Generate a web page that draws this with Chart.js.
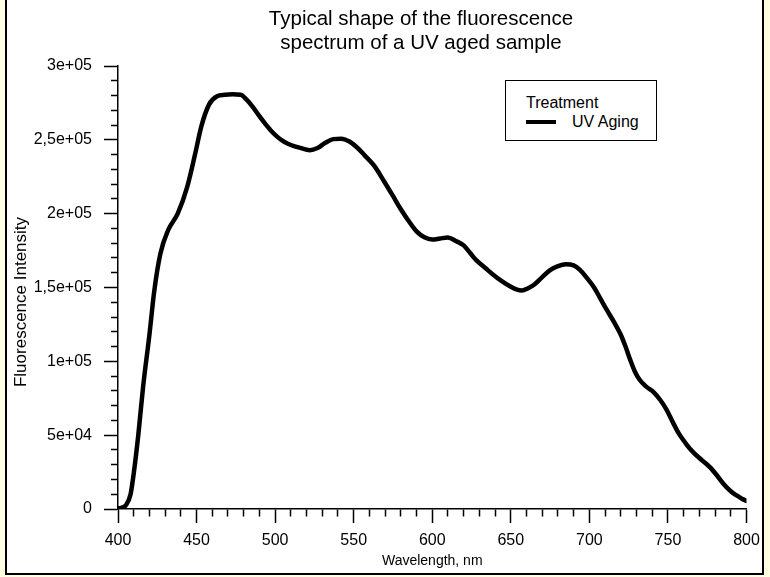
<!DOCTYPE html>
<html>
<head>
<meta charset="utf-8">
<title>Fluorescence spectrum</title>
<style>
  html, body { margin: 0; padding: 0; background: #ffffe1; }
  #wrap { position: relative; width: 770px; height: 577px; }
  #chart { position: absolute; left: 0; top: 0; }
  #title {
    position: absolute; left: 221px; top: 6px; width: 400px;
    font: 20.5px "Liberation Sans", Arial, sans-serif; line-height: 24px;
    text-align: center; color: #000; white-space: nowrap;
  }
  #ytitle {
    position: absolute; left: -79px; top: 292px; width: 200px; height: 20px;
    font: 17px "Liberation Sans", Arial, sans-serif; line-height: 20px;
    text-align: center; color: #000; white-space: nowrap;
    transform-origin: 50% 50%; transform: rotate(-90deg);
  }
  #legend {
    position: absolute; left: 505px; top: 80px; width: 152px; height: 61px;
    box-sizing: border-box; border: 1.5px solid #000; background: #fff;
    font: 16px "Liberation Sans", Arial, sans-serif; color: #000;
  }
  #legend .ttl { position: absolute; left: 20px; top: 13px; line-height: 18px; white-space: nowrap; }
  #legend .item { position: absolute; left: 20px; top: 32px; height: 18px; line-height: 18px; white-space: nowrap; }
  #legend .swatch { position: absolute; left: 0; top: 9px; width: 30px; }
  #legend .lbl { position: absolute; left: 46px; top: 0; }
</style>
<script src="https://cdn.jsdelivr.net/npm/chart.js@4.4.1/dist/chart.umd.min.js"></script>
</head>
<body>
<div id="wrap">
  <canvas id="chart" width="770" height="577"></canvas>
  <div id="title"></div>
  <div id="ytitle"></div>
  <div id="legend"></div>
</div>
<script>
// Emission wavelength (nm) and measured fluorescence intensity
const wavelengths = [
  400, 402, 405, 408, 410, 413, 416, 420, 423, 427, 432, 438, 444, 449, 453, 458,
  463, 468, 473, 478, 482, 486, 490, 494, 498, 502, 506, 510, 516, 522, 527, 532,
  537, 542, 547, 552, 557, 563, 569, 575, 580, 586, 590, 595, 600, 605, 610, 615,
  620, 624, 628, 634, 639, 644, 650, 654, 657, 661, 665, 670, 675, 680, 685, 690,
  694, 698, 703, 707, 711, 716, 720, 723, 726, 729, 732, 736, 741, 745, 749, 753,
  757, 762, 766, 770, 774, 777, 781, 785, 790, 794, 797, 800
];
const intensity = [
  500, 800, 2500, 10000, 24000, 51000, 83000, 118000, 147000, 173000, 189000, 200000, 218000, 240000, 259000, 274000,
  279500, 280500, 280800, 280500, 277000, 272000, 266000, 260500, 255500, 251500, 248500, 246500, 244500, 243000, 244500, 248000,
  250500, 250800, 249000, 245000, 239500, 232500, 222500, 212000, 203000, 193500, 188000, 184000, 182500, 183200, 183800, 181500,
  178500, 173500, 168500, 163000, 158500, 154500, 150500, 148500, 148000, 149500, 152000, 157000, 161800, 164500, 165800, 165000,
  162000, 157000, 150000, 142500, 135000, 126000, 118000, 110000, 101000, 93000, 87500, 83000, 79000, 74000, 67500, 59000,
  51000, 43500, 38500, 34500, 31000, 28000, 23000, 17500, 12000, 9000, 7000, 5500
];

// Axis tick values and their printed labels
const xTickValues = [400, 450, 500, 550, 600, 650, 700, 750, 800];
const xTickLabels = ['400', '450', '500', '550', '600', '650', '700', '750', '800'];
const yTickValues = [0, 50000, 100000, 150000, 200000, 250000, 300000];
const yTickLabels = ['0', '5e+04', '1e+05', '1,5e+05', '2e+05', '2,5e+05', '3e+05'];

// Texts
const titleLines = ['Typical shape of the fluorescence', 'spectrum of a UV aged sample'];
const xTitle = 'Wavelength, nm';
const yTitle = 'Fluorescence Intensity';
const legendTitle = 'Treatment';
const seriesLabel = 'UV Aging';

const FONT = '"Liberation Sans", Arial, sans-serif';
Chart.defaults.font.family = FONT;
Chart.defaults.color = '#000';

// Minor ticks are drawn as the inner part of a full-length tick line
const MAJOR_LEN = 14;
const MINOR_LEN = 7;

// Pale yellow surround with a black frame around the white figure area
const framePlugin = {
  id: 'frame',
  beforeDraw(chart) {
    const { ctx, width, height } = chart;
    ctx.save();
    ctx.fillStyle = '#ffffe1';
    ctx.fillRect(0, 0, width, height);
    ctx.fillStyle = '#ffffff';
    ctx.fillRect(6, 0, 757, 574);
    ctx.fillStyle = '#000000';
    ctx.fillRect(5, 0, 2, 575);
    ctx.fillRect(762, 0, 2, 575);
    ctx.fillRect(5, 573, 759, 2);
    ctx.restore();
  }
};

const points = wavelengths.map((w, i) => ({ x: w, y: intensity[i] }));

const chart = new Chart(document.getElementById('chart'), {
  type: 'line',
  data: {
    datasets: [{
      label: seriesLabel,
      data: points,
      borderColor: '#000',
      borderWidth: 4.5,
      pointRadius: 0,
      fill: false,
      cubicInterpolationMode: 'monotone',
      borderCapStyle: 'round',
      borderJoinStyle: 'round'
    }]
  },
  options: {
    responsive: false,
    animation: false,
    devicePixelRatio: 1,
    events: [],
    layout: { padding: { left: 0, right: 23.5, top: 66, bottom: 0 } },
    plugins: {
      legend: { display: false },
      tooltip: { enabled: false },
      title: { display: false }
    },
    scales: {
      x: {
        type: 'linear',
        position: 'bottom',
        min: 400,
        max: 800,
        ticks: {
          stepSize: 10,
          autoSkip: false,
          maxRotation: 0,
          color: '#000',
          padding: 8,
          font: { size: 16 },
          callback: (v) => {
            const k = xTickValues.indexOf(v);
            return k >= 0 ? xTickLabels[k] : '';
          }
        },
        grid: {
          display: true,
          drawOnChartArea: false,
          drawTicks: true,
          tickLength: MAJOR_LEN,
          tickColor: '#000',
          tickWidth: 1.5,
          tickBorderDash: (ctx) => xTickValues.includes(ctx.tick.value) ? [] : [MINOR_LEN, 50]
        },
        border: { display: true, color: '#000', width: 1.5 },
        title: {
          display: true,
          text: xTitle,
          color: '#000',
          font: { size: 14 },
          padding: { top: 0, bottom: 7.6 }
        },
        afterFit: (s) => { s.height = 68; }
      },
      y: {
        type: 'linear',
        position: 'left',
        min: 0,
        max: 300000,
        ticks: {
          stepSize: 10000,
          autoSkip: false,
          color: '#000',
          padding: 12,
          font: { size: 16 },
          callback: (v) => {
            const k = yTickValues.indexOf(v);
            return k >= 0 ? yTickLabels[k] : '';
          }
        },
        grid: {
          display: true,
          drawOnChartArea: false,
          drawTicks: true,
          tickLength: MAJOR_LEN,
          tickColor: '#000',
          tickWidth: 1.5,
          tickBorderDash: (ctx) => yTickValues.includes(ctx.tick.value) ? [] : [0, MAJOR_LEN - MINOR_LEN, MINOR_LEN, 50]
        },
        border: { display: true, color: '#000', width: 1.5 },
        title: { display: false },
        afterFit: (s) => { s.width = 118; }
      }
    }
  },
  plugins: [framePlugin]
});

// Two-line heading
(function buildTitle() {
  const el = document.getElementById('title');
  titleLines.forEach((line) => {
    const d = document.createElement('div');
    d.textContent = line;
    el.appendChild(d);
  });
})();

// Vertical axis caption
document.getElementById('ytitle').textContent = yTitle;

// Boxed legend built from the dataset
(function buildLegend() {
  const box = document.getElementById('legend');
  const t = document.createElement('div');
  t.className = 'ttl';
  t.textContent = legendTitle;
  box.appendChild(t);
  chart.data.datasets.forEach((ds) => {
    const row = document.createElement('div');
    row.className = 'item';
    const sw = document.createElement('div');
    sw.className = 'swatch';
    sw.style.borderTop = '4px solid ' + ds.borderColor;
    sw.style.marginTop = '-2px';
    const lb = document.createElement('span');
    lb.className = 'lbl';
    lb.textContent = ds.label;
    row.appendChild(sw);
    row.appendChild(lb);
    box.appendChild(row);
  });
})();
</script>
</body>
</html>
